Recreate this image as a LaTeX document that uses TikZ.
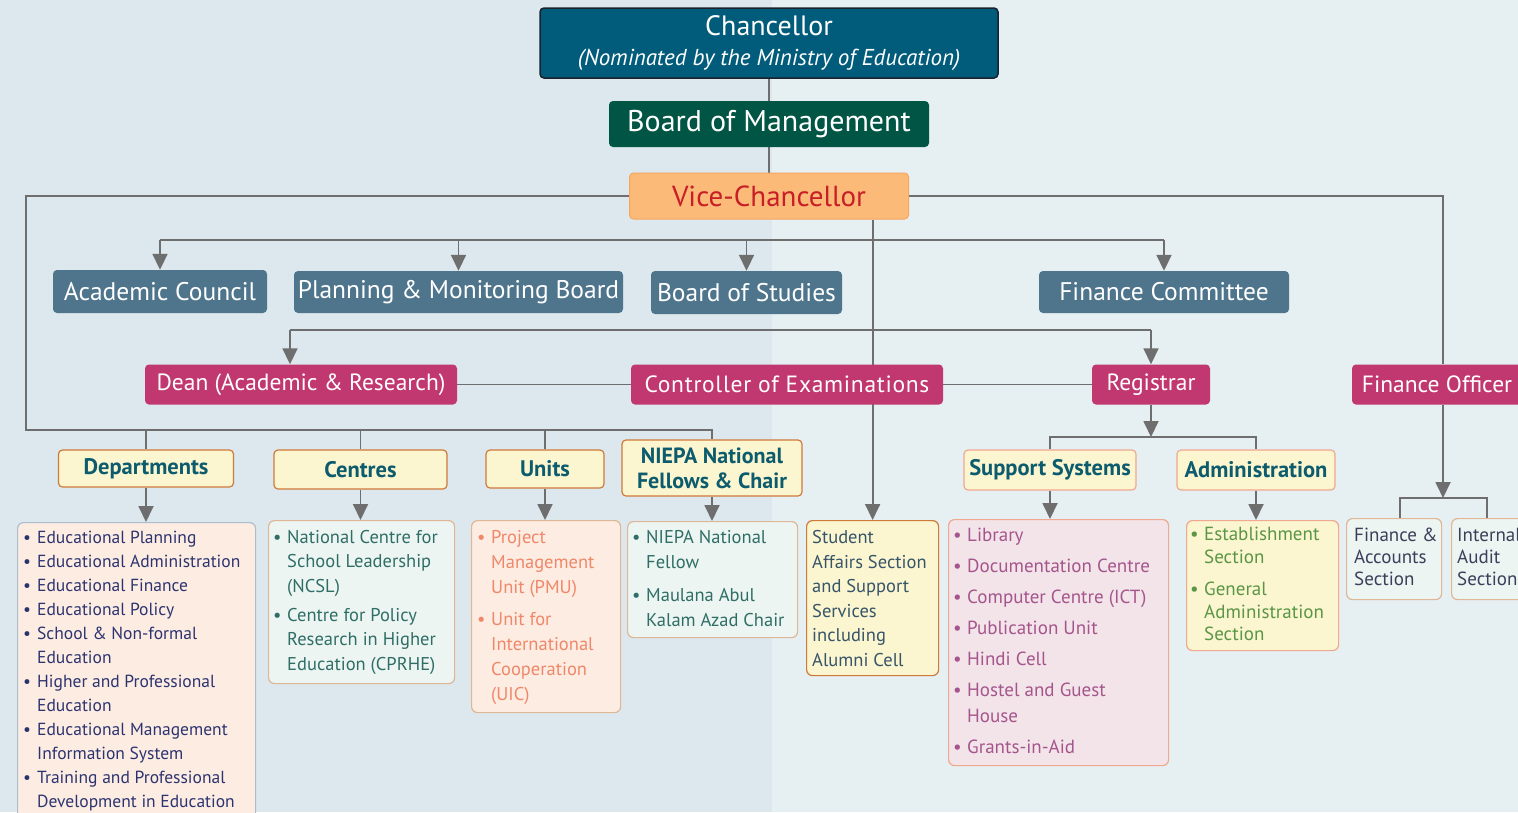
\documentclass[tikz,border=0pt]{standalone}
\usepackage{fontspec}
\setmainfont{PT Sans}
\usetikzlibrary{arrows.meta,calc}
\pgfdeclarelayer{back}
\pgfdeclarelayer{lines}
\pgfsetlayers{back,lines,main}
\definecolor{bgL}{RGB}{220,232,237}
\definecolor{bgR}{RGB}{230,239,242}
\definecolor{chanF}{RGB}{0,92,122}
\definecolor{chanD}{RGB}{25,35,45}
\definecolor{bomF}{RGB}{0,85,68}
\definecolor{vcF}{RGB}{252,186,120}
\definecolor{vcD}{RGB}{245,165,95}
\definecolor{vcT}{RGB}{200,30,40}
\definecolor{steel}{RGB}{78,117,140}
\definecolor{rose}{RGB}{193,56,112}
\definecolor{lineC}{RGB}{110,110,110}
\definecolor{yelF}{RGB}{251,245,208}
\definecolor{yelD}{RGB}{208,122,58}
\definecolor{salD}{RGB}{240,168,144}
\definecolor{tealT}{RGB}{13,92,110}
\definecolor{peachF}{RGB}{253,236,226}
\definecolor{mintF}{RGB}{237,245,242}
\definecolor{tanD}{RGB}{222,184,150}
\definecolor{greyD}{RGB}{172,190,205}
\definecolor{navyT}{RGB}{44,52,112}
\definecolor{greenT}{RGB}{47,110,102}
\definecolor{salT}{RGB}{240,135,105}
\definecolor{slateT}{RGB}{55,85,105}
\definecolor{pinkF}{RGB}{243,228,234}
\definecolor{mauveT}{RGB}{165,85,140}
\definecolor{leafT}{RGB}{90,150,70}
\definecolor{inkT}{RGB}{60,62,90}
\newlength{\bw}
\setlength{\bw}{14pt}
\newcommand{\bul}{\makebox[\bw][l]{\textbullet}}
\tikzset{
  x=1pt,y=-1pt,
  conn/.style={draw=lineC,line width=1.8pt},
  arr/.style={conn,-{Triangle[width=15pt,length=16pt]}},
  topbox/.style={rounded corners=4pt,inner sep=0pt,align=center},
  council/.style={topbox,fill=steel,text=white,font=\fontsize{25.5}{28}\selectfont},
  officer/.style={topbox,fill=rose,text=white,font=\fontsize{23.5}{26}\selectfont},
  head/.style={topbox,fill=yelF,draw=yelD,line width=1.2pt,text=tealT,font=\bfseries\fontsize{22.5}{25}\selectfont},
  listbox/.style={rounded corners=6pt,inner sep=0pt,line width=1.2pt,anchor=north west},
  listtext/.style={anchor=north west,inner sep=0pt,align=left},
}
\begin{document}
\begin{tikzpicture}
\useasboundingbox (0,0) rectangle (1518,812);
\clip (0,0) rectangle (1518,812);
\begin{pgfonlayer}{back}
\fill[bgL] (0,0) rectangle (772,812);
\fill[bgR] (772,0) rectangle (1518,812);
\end{pgfonlayer}

% top
\node[topbox,fill=chanF,draw=chanD,line width=1.5pt,text=white,minimum width=458pt,minimum height=70pt,font=\fontsize{28}{30}\selectfont] (chan) at (769,43) {Chancellor\\[0pt]{\fontsize{23}{24}\selectfont\itshape (Nominated by the Ministry of Education)}};
\node[topbox,fill=bomF,text=white,minimum width=320pt,minimum height=46pt,font=\fontsize{30}{32}\selectfont] (bom) at (769,124) {Board of Management};
\node[topbox,fill=vcF,draw=vcD,line width=1pt,text=vcT,minimum width=279pt,minimum height=46pt,font=\fontsize{29}{32}\selectfont] (vc) at (769,196) {Vice-Chancellor};

% councils
\node[council,minimum width=214pt,minimum height=43pt] (ac) at (160,291.5) {Academic Council};
\node[council,minimum width=329pt,minimum height=42pt] (pmb) at (458.5,292) {Planning \& Monitoring Board};
\node[council,minimum width=191pt,minimum height=43pt] (bos) at (746.5,292.5) {Board of Studies};
\node[council,minimum width=250pt,minimum height=42pt] (fc) at (1164,292) {Finance Committee};

% officers
\node[officer,minimum width=312pt,minimum height=40pt] (dean) at (301,384.5) {Dean (Academic \& Research)};
\node[officer,minimum width=312pt,minimum height=40pt] (coe) at (787,384.5) {\addfontfeature{LetterSpace=3}Controller of Examinations};
\node[officer,minimum width=118pt,minimum height=40pt] (reg) at (1151,384.5) {Registrar};
\node[officer,minimum width=182pt,minimum height=40pt] (fo) at (1443,384.5) {Finance Officer\hspace*{12pt}};

% heads
\node[head,minimum width=175pt,minimum height=37pt] (dep) at (146,468.5) {Departments};
\node[head,minimum width=173pt,minimum height=39pt] (cen) at (360.5,469.5) {Centres};
\node[head,minimum width=118pt,minimum height=38pt] (uni) at (545,469) {Units};
\node[head,minimum width=180pt,minimum height=56pt,font=\bfseries\fontsize{22}{25}\selectfont] (nfc) at (712,468) {NIEPA National\\Fellows \& Chair};
\node[head,draw=salD,minimum width=172pt,minimum height=40pt] (sup) at (1050,470) {Support Systems};
\node[head,draw=salD,minimum width=158pt,minimum height=40pt] (adm) at (1256,470) {Administration};

% list boxes
\node[listbox,fill=peachF,draw=greyD,minimum width=238pt,minimum height=310pt] (depL) at (17,522) {};
\node[listtext,text=navyT,font=\fontsize{17.5}{24}\selectfont] (depT) at ([shift={(6,4)}]depL.north west) {%
\begin{tabular}{@{}l@{}l@{}}
\bul & Educational Planning\\
\bul & Educational Administration\\
\bul & Educational Finance\\
\bul & Educational Policy\\
\bul & School \& Non-formal\\
     & Education\\
\bul & Higher and Professional\\
     & Education\\
\bul & Educational Management\\
     & Information System\\
\bul & Training and Professional\\
     & Development in Education
\end{tabular}};

\node[listbox,fill=mintF,draw=tanD,minimum width=186pt,minimum height=163pt] (cenL) at (268,520) {};
\node[listtext,text=greenT,font=\fontsize{18.5}{24.5}\selectfont] (cenT) at ([shift={(5,6)}]cenL.north west) {%
\begin{tabular}{@{}l@{}l@{}}
\bul & National Centre for\\
     & School Leadership\\
     & (NCSL)\\[4.5pt]
\bul & Centre for Policy\\
     & Research in Higher\\
     & Education (CPRHE)
\end{tabular}};

\node[listbox,fill=peachF,draw=tanD,minimum width=149pt,minimum height=192pt] (uniL) at (471,520) {};
\node[listtext,text=salT,font=\fontsize{18.5}{25}\selectfont] (uniT) at ([shift={(6,5.5)}]uniL.north west) {%
\begin{tabular}{@{}l@{}l@{}}
\bul & Project\\
     & Management\\
     & Unit (PMU)\\[7pt]
\bul & Unit for\\
     & International\\
     & Cooperation\\
     & (UIC)
\end{tabular}};

\node[listbox,fill=mintF,draw=tanD,minimum width=170pt,minimum height=116pt] (nfL) at (627,521) {};
\node[listtext,text=greenT,font=\fontsize{18.5}{25}\selectfont] (nfT) at ([shift={(5,4.5)}]nfL.north west) {%
\begin{tabular}{@{}l@{}l@{}}
\bul & NIEPA National\\
     & Fellow\\[8pt]
\bul & Maulana Abul\\
     & Kalam Azad Chair
\end{tabular}};

\node[listbox,fill=yelF,draw=yelD,minimum width=132pt,minimum height=155pt] (saL) at (806,520) {};
\node[listtext,text=slateT,font=\fontsize{18.5}{24.6}\selectfont] (saT) at ([shift={(6,6)}]saL.north west) {%
\begin{tabular}{@{}l@{}}
Student\\Affairs Section\\and Support\\Services\\including\\Alumni Cell
\end{tabular}};

\node[listbox,fill=pinkF,draw=salD,minimum width=220pt,minimum height=246pt] (supL) at (948,519) {};
\node[listtext,text=mauveT,font=\fontsize{19}{26}\selectfont] (supT) at ([shift={(5,4)}]supL.north west) {%
\begin{tabular}{@{}l@{}l@{}}
\bul & Library\\[5pt]
\bul & Documentation Centre\\[5pt]
\bul & Computer Centre (ICT)\\[5pt]
\bul & Publication Unit\\[5pt]
\bul & Hindi Cell\\[5pt]
\bul & Hostel and Guest\\
     & House\\[5pt]
\bul & Grants-in-Aid
\end{tabular}};

\node[listbox,fill=yelF,draw=salD,minimum width=152pt,minimum height=130pt] (admL) at (1186,520) {};
\node[listtext,text=leafT,font=\fontsize{19}{22.5}\selectfont] (admT) at ([shift={(4,5)}]admL.north west) {%
\begin{tabular}{@{}l@{}l@{}}
\bul & Establishment\\
     & Section\\[10pt]
\bul & General\\
     & Administration\\
     & Section
\end{tabular}};

\node[listbox,fill=mintF,draw=tanD,minimum width=95pt,minimum height=81pt] (faL) at (1346,518) {};
\node[listtext,text=inkT,font=\fontsize{19}{22}\selectfont] (faT) at ([shift={(8,7.5)}]faL.north west) {%
\begin{tabular}{@{}l@{}}
Finance \&\\Accounts\\Section
\end{tabular}};
\node[listbox,fill=mintF,draw=tanD,minimum width=90pt,minimum height=81pt] (iaL) at (1451,518) {};
\node[listtext,text=inkT,font=\fontsize{19}{22}\selectfont] (iaT) at ([shift={(6,7.5)}]iaL.north west) {%
\begin{tabular}{@{}l@{}}
Internal\\Audit\\Section
\end{tabular}};

% connectors
\begin{pgfonlayer}{lines}
\draw[conn] (chan.south) -- (bom.north);
\draw[conn] (bom.south) -- (vc.north);
% left bus
\coordinate (b4) at (26,430);
\draw[conn] (vc.west) -| (b4) -| (nfc.north);
\draw[conn] (dep.north) -- (dep.north |- b4);
\draw[conn] (cen.north) -- (cen.north |- b4);
\draw[conn] (uni.north) -- (uni.north |- b4);
% right
\draw[conn] (vc.east) -| (fo.north);
% council bus
\coordinate (b1) at (0,240);
\draw[conn] (ac.north |- b1) -- (fc.north |- b1);
\draw[arr] (ac.north |- b1) -- (ac.north);
\draw[arr] (pmb.north |- b1) -- (pmb.north);
\draw[arr] (bos.north |- b1) -- (bos.north);
\draw[arr] (fc.north |- b1) -- (fc.north);
% student affairs line
\draw[arr] (vc.south -| saL.north) -- (saL.north);
% officer bus
\coordinate (b2) at (290,330);
\draw[conn] (b2) -- (reg.north |- b2);
\draw[arr] (b2) -- (b2 |- dean.north);
\draw[arr] (reg.north |- b2) -- (reg.north);
\draw[conn] (dean.east) -- (coe.west);
\draw[conn] (coe.east) -- (reg.west);
% registrar
\coordinate (b3) at (0,437);
\draw[conn] (sup.north) |- (b3 -| adm.north) -- (adm.north);
\draw[arr] (reg.south) -- (reg.south |- b3);
% finance officer
\coordinate (fa1) at (1400,498);
\coordinate (ia1) at (1487,498);
\draw[conn] (fa1 |- faL.north) -- (fa1) -- (ia1) -- (ia1 |- iaL.north);
\draw[arr] (fo.south) -- (fo.south |- fa1);
% heads to lists
\draw[arr] (dep.south) -- (dep.south |- depL.north);
\draw[arr] (cen.south) -- (cen.south |- cenL.north);
\draw[arr] (uni.south) -- (uni.south |- uniL.north);
\draw[arr] (nfc.south) -- (nfc.south |- nfL.north);
\draw[arr] (sup.south) -- (sup.south |- supL.north);
\draw[arr] (adm.south) -- (adm.south |- admL.north);
\end{pgfonlayer}
\end{tikzpicture}
\end{document}
